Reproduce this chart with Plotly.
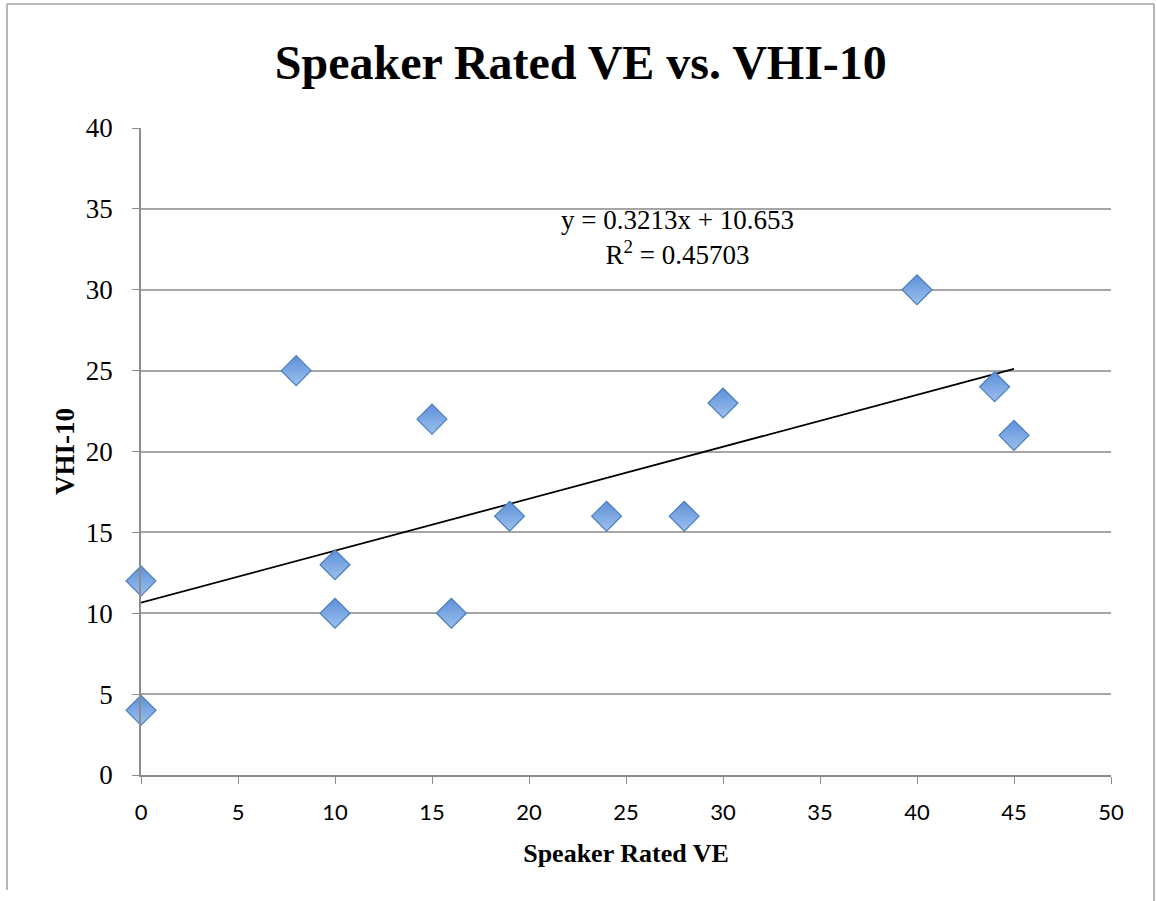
import plotly.graph_objects as go

speaker_ve = [0, 0, 8, 10, 10, 15, 16, 19, 24, 28, 30, 40, 44, 45]
vhi10 = [12, 4, 25, 13, 10, 22, 10, 16, 16, 16, 23, 30, 24, 21]
slope = 0.3213
intercept = 10.653
r2 = 0.45703
x_ticks = [0, 5, 10, 15, 20, 25, 30, 35, 40, 45, 50]
y_ticks = [0, 5, 10, 15, 20, 25, 30, 35, 40]

SERIF = "Liberation Serif"
SANS = "Lato"

W, H = 1157, 901
ML, MR, MT, MB = 141, 46, 128, 126
PW, PH = W - ML - MR, H - MT - MB

fig = go.Figure()
trend_x = [min(speaker_ve), max(speaker_ve)]
trend_y = [slope * v + intercept for v in trend_x]
fig.add_trace(go.Scatter(x=trend_x, y=trend_y, mode="lines",
                         line=dict(color="black", width=1.8), showlegend=False, hoverinfo="skip"))
fig.add_trace(go.Scatter(x=speaker_ve, y=vhi10, mode="markers",
                         marker=dict(symbol="diamond", size=23, color="#5d90d8",
                                     gradient=dict(type="vertical", color="#9cc0ee"),
                                     line=dict(color="#4a7ebb", width=1.2)),
                         showlegend=False, cliponaxis=False))

fig.add_annotation(x=0.5536, y=0.83, xref="paper", yref="paper", showarrow=False,
                   text=f"y = {slope}x + {intercept}<br>R<sup>2</sup> = {r2}",
                   font=dict(family=SERIF, size=27, color="black"), align="center",
                   xanchor="center", yanchor="middle")

fig.update_layout(
    width=W, height=H,
    paper_bgcolor="white", plot_bgcolor="white",
    margin=dict(l=ML, r=MR, t=MT, b=MB),
    title=dict(text="<b>Speaker Rated VE vs. VHI-10</b>", x=0.502, xanchor="center",
               y=0.931, yanchor="middle",
               font=dict(family=SERIF, size=48, color="black")),
    font=dict(family=SERIF, size=26, color="black"),
    xaxis=dict(range=[0, 50], tickvals=x_ticks, showgrid=False, zeroline=False,
               showline=True, linecolor="#8c8c8c", linewidth=1.5,
               ticks="outside", ticklen=7, tickcolor="#8c8c8c", ticklabelstandoff=10,
               title=dict(text="<b>Speaker Rated VE</b>", font=dict(family=SERIF, size=26), standoff=20),
               tickfont=dict(family=SANS, size=22)),
    yaxis=dict(range=[0, 40], tickvals=y_ticks, showgrid=True, gridcolor="#a6a6a6", gridwidth=1.5,
               zeroline=False, showline=True, linecolor="#8c8c8c", linewidth=1.5,
               ticks="outside", ticklen=7, tickcolor="#8c8c8c", ticklabelstandoff=14,
               title=dict(text="<b>VHI-10</b>", font=dict(family=SERIF, size=27), standoff=3),
               tickfont=dict(family=SERIF, size=27)),
)

# outer frame of the chart area (top, left, right edges)
def px_x(p):
    return (p - ML) / PW

def px_y(p):
    return (H - MB - p) / PH

fig.add_shape(type="line", xref="paper", yref="paper", x0=px_x(7), x1=px_x(1154),
              y0=px_y(4), y1=px_y(4), line=dict(color="#a0a0a0", width=1.5))
fig.add_shape(type="line", xref="paper", yref="paper", x0=px_x(7), x1=px_x(7),
              y0=px_y(4), y1=px_y(890), line=dict(color="#a0a0a0", width=1.5))
fig.add_shape(type="line", xref="paper", yref="paper", x0=px_x(1154), x1=px_x(1154),
              y0=px_y(4), y1=px_y(901), line=dict(color="#a0a0a0", width=1.5))

fig.write_html("out.html", config={"displayModeBar": False},
               post_script="document.body.style.margin='0';document.body.style.overflow='hidden';")
